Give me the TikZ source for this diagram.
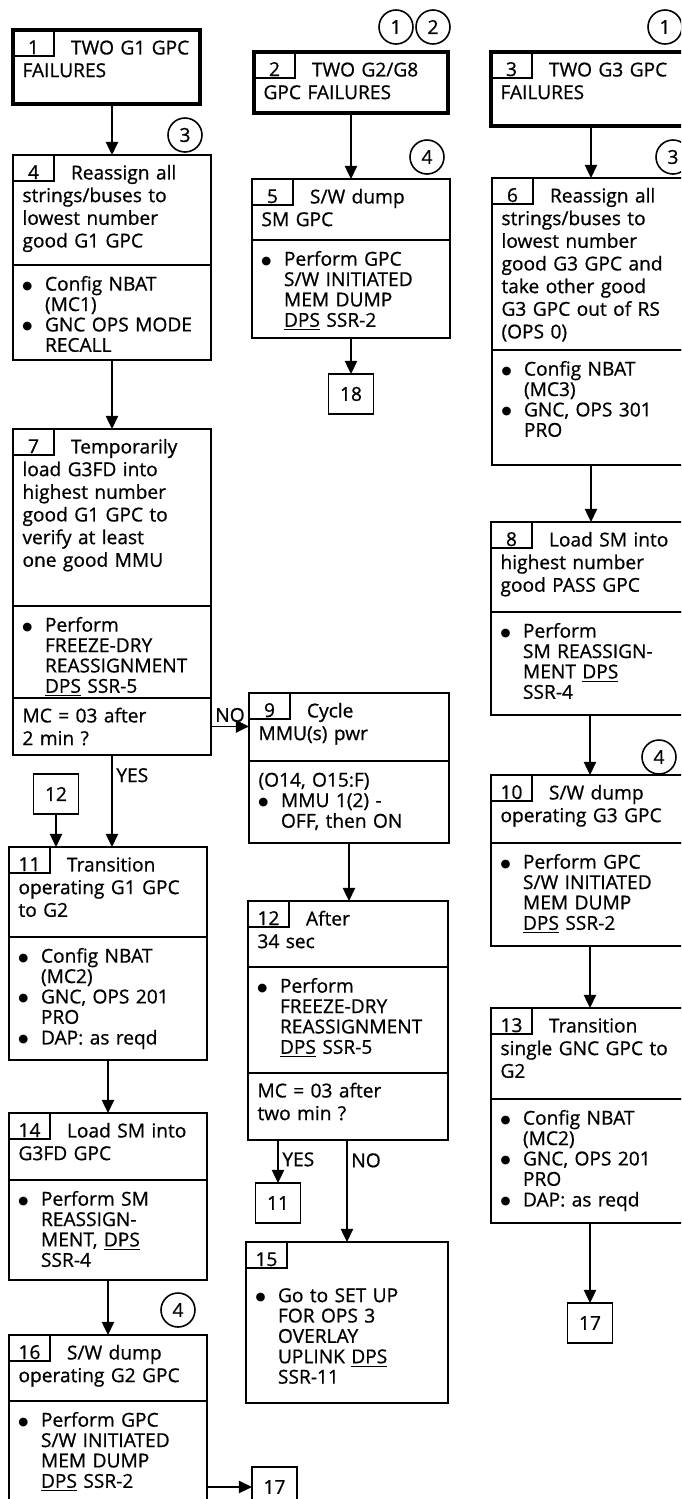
\documentclass[tikz,border=0pt]{standalone}
\usepackage{fontspec}
\setmainfont[RawFeature={embolden=0.8}]{Open Sans}
\newfontfamily\symfont{DejaVu Sans}
\usepackage{tikz}
\usetikzlibrary{arrows.meta,positioning}

\newcommand{\ftxt}{\fontsize{10.9}{12.9}\selectfont}
\newcommand{\fbody}{\fontsize{10.9}{11.6}\selectfont}
\newcommand{\bpt}{\makebox[0.45cm][l]{\raisebox{0.9pt}{\symfont\fontsize{6.5}{7}\selectfont ●}}}
\newcommand{\bin}{\hspace*{0.45cm}}
\newcommand{\tsp}{\hspace*{0.97cm}}
\newcommand{\stk}[1]{\begin{tabular}[t]{@{}l@{}}#1\end{tabular}}

\tikzset{
  sec/.style={draw, line width=0.9pt, outer sep=0pt, anchor=north west,
              minimum width=3.96cm, text width=3.58cm, inner xsep=0.19cm, inner ysep=3pt,
              text height=10.9pt, text depth=#1-16.9pt, font=\ftxt},
  body/.style={sec=#1, text height=11.6pt, text depth=#1-17.6pt, font=\fbody},
  fail/.style={sec=#1, line width=2.6pt},
  tabbox/.style={draw, line width=0.9pt, outer sep=0pt, anchor=north west,
                 minimum width=0.82cm, inner sep=0pt, text height=0.48cm, text depth=0.04cm, font=\ftxt},
  refbox/.style={draw, line width=0.9pt, outer sep=0pt, minimum width=0.9cm,
                 minimum height=0.8cm, inner sep=0pt, font=\ftxt},
  numcirc/.style={circle, draw, line width=0.9pt, minimum size=0.68cm, inner sep=0pt, font=\ftxt},
  arr/.style={-{Triangle[length=7.5pt,width=7pt]}, line width=1pt},
  lbl/.style={font=\ftxt, inner sep=2pt},
}

\begin{document}
\begin{tikzpicture}[x=0.02cm, y=-0.02cm]
\useasboundingbox (0,0) rectangle (681,1499);
\clip (0,0) rectangle (681,1499);

% Failure headers
\node[fail=1.48cm, minimum width=3.74cm, text width=3.36cm] (b1) at (13,30) {\stk{\tsp TWO G1 GPC\\FAILURES}};
\node[tabbox] (t1) at (b1.north west) {1};
\node[fail=1.22cm, minimum width=3.88cm, text width=3.50cm] (b2) at (254,52) {\stk{\tsp TWO G2/G8\\GPC FAILURES}};
\node[tabbox] (t2) at (b2.north west) {2};
\node[fail=1.48cm] (b3) at (491,52) {\stk{\tsp TWO G3 GPC\\FAILURES}};
\node[tabbox] (t3) at (b3.north west) {3};

% Note circles
\node[numcirc] (c1a) at (396,27) {1};
\node[numcirc] (c2) at (433,27) {2};
\node[numcirc] (c1b) at (665,27) {1};
\node[numcirc] (c3a) at (185,135) {3};
\node[numcirc] (c4a) at (427,157) {4};
\node[numcirc] (c3b) at (673,157) {3};
\node[numcirc] (c4b) at (659,757) {4};
\node[numcirc] (c4c) at (178,1310) {4};

% Left column
\node[sec=2.20cm] (b4t) at (13,155) {\stk{\tsp Reassign all\\strings/buses to\\lowest number\\good G1 GPC}};
\node[tabbox] (t4) at (b4t.north west) {4};
\node[body=1.90cm] (b4a) at (b4t.south west) {\stk{\bpt Config NBAT\\\bin(MC1)\\\bpt GNC OPS MODE\\\bin RECALL}};

\node[sec=3.54cm] (b7t) at (13,429) {\stk{\tsp Temporarily\\load G3FD into\\highest number\\good G1 GPC to\\verify at least\\one good MMU}};
\node[tabbox] (t7) at (b7t.north west) {7};
\node[body=1.84cm] (b7a) at (b7t.south west) {\stk{\bpt Perform\\\bin FREEZE-DRY\\\bin REASSIGNMENT\\\bin\underline{DPS} SSR-5}};
\node[sec=1.14cm] (b7q) at (b7a.south west) {\stk{MC = 03 after\\2 min ?}};

\node[refbox] (r12) at (56,794) {12};

\node[sec=1.80cm] (b11t) at (9,847) {\stk{\tsp Transition\\operating G1 GPC\\to G2}};
\node[tabbox] (t11) at (b11t.north west) {11};
\node[body=2.46cm] (b11a) at (b11t.south west) {\stk{\bpt Config NBAT\\\bin(MC2)\\\bpt GNC, OPS 201\\\bin PRO\\\bpt DAP: as reqd}};

\node[sec=1.34cm] (b14t) at (9,1113) {\stk{\tsp Load SM into\\G3FD GPC}};
\node[tabbox] (t14) at (b14t.north west) {14};
\node[body=2.00cm] (b14a) at (b14t.south west) {\stk{\bpt Perform SM\\\bin REASSIGN-\\\bin MENT, \underline{DPS}\\\bin SSR-4}};

\node[sec=1.32cm] (b16t) at (9,1335) {\stk{\tsp S/W dump\\operating G2 GPC}};
\node[tabbox] (t16) at (b16t.north west) {16};
\node[body=2.10cm] (b16a) at (b16t.south west) {\stk{\bpt Perform GPC\\\bin S/W INITIATED\\\bin MEM DUMP\\\bin\underline{DPS} SSR-2}};

% Middle column
\node[sec=1.22cm] (b5t) at (252,179) {\stk{\tsp S/W dump\\SM GPC}};
\node[tabbox] (t5) at (b5t.north west) {5};
\node[body=1.96cm] (b5a) at (b5t.south west) {\stk{\bpt Perform GPC\\\bin S/W INITIATED\\\bin MEM DUMP\\\bin\underline{DPS} SSR-2}};
\node[refbox] (r18) at (351,394) {18};

\node[sec=1.36cm, minimum width=4.0cm, text width=3.62cm] (b9t) at (249,693) {\stk{\tsp Cycle\\MMU(s) pwr}};
\node[tabbox] (t9) at (b9t.north west) {9};
\node[body=1.64cm, minimum width=4.0cm, text width=3.62cm] (b9a) at (b9t.south west) {\stk{(O14, O15:F)\\\bpt MMU 1(2) -\\\bin OFF, then ON}};

\node[sec=1.32cm, minimum width=4.0cm, text width=3.62cm] (b12t) at (248,901) {\stk{\tsp After\\34 sec}};
\node[tabbox] (t12) at (b12t.north west) {12};
\node[body=2.12cm, minimum width=4.0cm, text width=3.62cm] (b12a) at (b12t.south west) {\stk{\bpt Perform\\\bin FREEZE-DRY\\\bin REASSIGNMENT\\\bin\underline{DPS} SSR-5}};
\node[sec=1.34cm, minimum width=4.0cm, text width=3.62cm] (b12q) at (b12a.south west) {\stk{MC = 03 after\\two min ?}};

\node[refbox] (r11) at (278,1203) {11};

\node[body=3.22cm, minimum width=4.04cm, text width=3.66cm] (b15) at (246,1242) {\stk{\mbox{}\\[8pt]\bpt Go to SET UP\\\bin FOR OPS 3\\\bin OVERLAY\\\bin UPLINK \underline{DPS}\\\bin SSR-11}};
\node[tabbox] (t15) at (b15.north west) {15};

\node[refbox, anchor=north west] (r17b) at (252,1467) {17};

% Right column
\node[sec=3.44cm] (b6t) at (492,178) {\stk{\tsp Reassign all\\strings/buses to\\lowest number\\good G3 GPC and\\take other good\\G3 GPC out of RS\\(OPS 0)}};
\node[tabbox] (t6) at (b6t.north west) {6};
\node[body=2.30cm] (b6a) at (b6t.south west) {\stk{\bpt Config NBAT\\\bin(MC3)\\\bpt GNC, OPS 301\\\bin PRO}};

\node[sec=1.80cm] (b8t) at (491,522) {\stk{\tsp Load SM into\\highest number\\good PASS GPC}};
\node[tabbox] (t8) at (b8t.north west) {8};
\node[body=2.06cm] (b8a) at (b8t.south west) {\stk{\bpt Perform\\\bin SM REASSIGN-\\\bin MENT \underline{DPS}\\\bin SSR-4}};

\node[sec=1.36cm] (b10t) at (491,775) {\stk{\tsp S/W dump\\operating G3 GPC}};
\node[tabbox] (t10) at (b10t.north west) {10};
\node[body=2.06cm] (b10a) at (b10t.south west) {\stk{\bpt Perform GPC\\\bin S/W INITIATED\\\bin MEM DUMP\\\bin\underline{DPS} SSR-2}};

\node[sec=1.82cm] (b13t) at (491,1008) {\stk{\tsp Transition\\single GNC GPC to\\G2}};
\node[tabbox] (t13) at (b13t.north west) {13};
\node[body=2.48cm] (b13a) at (b13t.south west) {\stk{\bpt Config NBAT\\\bin(MC2)\\\bpt GNC, OPS 201\\\bin PRO\\\bpt DAP: as reqd}};

\node[refbox] (r17a) at (590,1323) {17};

% Flow, left column
\draw[arr] (b4t.north |- b1.south) -- (b4t.north);
\draw[arr] (b4a.south) -- (b7t.north);
\draw[arr] (b7q.east) node[lbl, above right] {NO} -- (b7q.east -| b9t.west);
\draw[arr] (b7q.south) -- node[lbl, right, pos=0.22] {YES} (b7q.south |- b11t.north);
\draw[arr] (r12.south) -- (r12.south |- b11t.north);
\draw[arr] (b11a.south) -- (b14t.north);
\draw[arr] (b14a.south) -- (b16t.north);
\draw[arr] (b16a.east |- r17b.west) -- (r17b.west);

% Flow, middle column
\draw[arr] (b2.south) -- (b5t.north);
\draw[arr] (b5a.south) -- (r18.north);
\draw[arr] (b9a.south) -- (b9a.south |- b12t.north);
\draw[arr] (r11.north |- b12q.south) -- node[lbl, right, pos=0.45] {YES} (r11.north);
\draw[arr] (b15.north |- b12q.south) -- node[lbl, right, pos=0.2] {NO} (b15.north);

% Flow, right column
\draw[arr] (b6t.north |- b3.south) -- (b6t.north);
\draw[arr] (b6a.south) -- (b6a.south |- b8t.north);
\draw[arr] (b8a.south) -- (b10t.north);
\draw[arr] (b10a.south) -- (b13t.north);
\draw[arr] (b13a.south) -- (r17a.north);

\end{tikzpicture}
\end{document}
